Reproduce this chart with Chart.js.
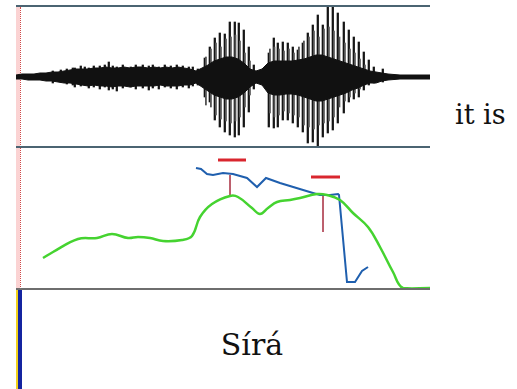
<!DOCTYPE html>
<html>
<head>
<meta charset="utf-8">
<script src="https://cdn.jsdelivr.net/npm/chart.js@4.4.1/dist/chart.umd.min.js"></script>
<style>
  body { margin: 0; background: #fff; width: 517px; height: 389px; overflow: hidden; position: relative; }
  .abs { position: absolute; }
  .hline { position: absolute; left: 16px; width: 414px; }
  .word { position: absolute; font-family: "DejaVu Serif", serif; color: #111; white-space: nowrap; }
</style>
</head>
<body>

<!-- left selection strip -->
<div class="abs" style="left:16px; top:7px; width:4px; height:282px; background:#fbd3d3;"></div>
<div class="abs" style="left:20px; top:7px; width:0; height:282px; border-left:1px dotted #d04848;"></div>
<div class="abs" style="left:16px; top:290px; width:2px; height:99px; background:#f2d21a;"></div>
<div class="abs" style="left:18px; top:290px; width:4px; height:99px; background:#1424a0;"></div>

<canvas id="wave" class="abs" width="414" height="141" style="left:16px; top:6px;"></canvas>
<canvas id="pitch" class="abs" width="414" height="142" style="left:16px; top:147px;"></canvas>

<div class="hline" style="top:5px; height:2px; background:#4b6472;"></div>
<div class="hline" style="top:146px; height:2px; background:#4b6472;"></div>
<div class="hline" style="top:288px; height:2px; background:#6e6e6e;"></div>

<div class="word" style="left:455px; top:101px; font-size:27px; line-height:27px;">it is</div>
<div class="word" style="left:152px; width:200px; text-align:center; top:330px; font-size:30px; line-height:30px;">Sírá</div>

<script>
// time in ms, waveform amplitude in arbitrary units (+71 .. -70)
var coreTimes = [0, 12, 24, 36, 48, 60, 72, 84, 96, 108, 120, 132, 144, 156, 168, 180, 192, 204, 216, 228,
  240, 252, 264, 276, 288, 300, 312, 324, 336, 348, 360, 372, 384, 396, 408, 420, 432, 444, 456, 468,
  480, 492, 504, 516, 528, 540, 552, 564, 576, 588, 600, 612, 624, 636, 648, 660, 672, 684, 696, 708,
  720, 732, 744, 768, 792, 816, 828];
var coreHi = [2, 3, 3, 3, 4, 4, 5, 5, 6, 7, 8, 8, 8, 9, 9, 10, 9, 9, 10, 9,
  10, 10, 9, 10, 9, 10, 9, 10, 9, 8, 6, 9, 12, 16, 18, 20, 20, 18, 14, 8,
  6, 8, 14, 16, 16, 16, 16, 17, 18, 20, 22, 22, 20, 18, 16, 14, 12, 10, 8, 6,
  5, 4, 3, 2, 2, 2, 2];
var coreLo = [-2, -2, -3, -3, -3, -4, -4, -5, -6, -6, -7, -8, -9, -8, -9, -9, -10, -9, -9, -10,
  -9, -9, -9, -9, -8, -9, -9, -9, -8, -8, -6, -10, -14, -18, -20, -22, -22, -20, -16, -10,
  -6, -8, -16, -18, -18, -17, -17, -18, -20, -22, -24, -24, -22, -20, -18, -16, -13, -11, -8, -6,
  -6, -4, -3, -2, -2, -2, -2];

// glottal pulses (strong)
var spikeTimes = [72, 88, 100, 112, 116, 128, 136, 144, 154, 166, 176, 184, 192, 200, 212, 228, 238, 252,
  264, 272, 284, 296, 308, 320, 332, 344, 352, 362,
  376, 386, 396, 406, 416, 426, 436, 444, 454, 464, 474,
  504, 514, 522, 532, 542, 552, 562, 572, 582, 592, 602, 612, 622, 632, 642, 654, 664, 674, 684, 694,
  704, 714, 732];
var spikeHi = [6, 7, 8, 9, 9, 11, 10, 9, 11, 11, 12, 15, 11, 10, 12, 10, 12, 12,
  11, 12, 10, 12, 11, 12, 11, 10, 10, 8,
  19, 30, 39, 44, 43, 55, 55, 54, 47, 30, 12,
  24, 39, 34, 35, 34, 30, 27, 34, 44, 52, 62, 52, 70, 70, 64, 55, 47, 40, 35, 25,
  17, 10, 8];
var spikeLo = [-6, -5, -7, -8, -10, -9, -8, -11, -10, -12, -10, -13, -12, -14, -11, -10, -12, -11,
  -13, -11, -12, -10, -11, -12, -10, -11, -9, -8,
  -20, -25, -43, -50, -55, -58, -60, -58, -50, -35, -12,
  -50, -51, -50, -43, -43, -46, -50, -55, -66, -65, -70, -60, -56, -53, -46, -36, -25, -22, -20, -13,
  -8, -6, -5];

// weaker peaks between the pulses
var minorTimes = [381, 391, 401, 411, 421, 431, 440, 449, 459, 469,
  509, 518, 527, 537, 547, 557, 567, 577, 587, 597, 607, 617, 627, 637, 648, 659, 669, 679, 689, 699];
var minorHi = [20, 28, 34, 30, 38, 40, 42, 36, 24, 16,
  28, 30, 28, 26, 28, 24, 30, 36, 40, 46, 40, 48, 50, 46, 40, 34, 28, 24, 18, 12];
var minorLo = [-28, -30, -38, -42, -44, -46, -44, -40, -30, -18,
  -36, -40, -38, -34, -36, -38, -40, -48, -50, -52, -48, -46, -44, -40, -30, -24, -20, -16, -12, -8];

// intensity contour (dB)
var intTimes = [54, 74, 124, 162, 192, 224, 244, 268, 294, 332, 352, 368, 392, 428, 444, 472, 488, 504,
  522, 548, 568, 602, 622, 648, 674, 704, 728, 754, 774, 828];
var intDb = [35.5, 38.5, 45, 45.5, 47.5, 45.5, 46, 45.5, 44, 44.5, 46.5, 56, 62.5, 66.5, 66, 60.5, 57.5, 60.5,
  63.5, 64.5, 65.5, 67.5, 67, 64.5, 58, 51, 41, 28.5, 20.5, 20.5];

// pitch contour (Hz)
var f0Times = [360, 370, 382, 394, 414, 434, 462, 482, 500, 528, 594, 608, 628, 644, 646, 662, 678, 692, 704];
var f0Hz = [342, 340, 330, 328, 332, 330, 322, 304, 322, 312, 292, 288, 288, 290, 288, 114, 114, 136, 144];

// tone targets: horizontal bars and their stems
var targetStart = [404, 590];
var targetEnd = [460, 648];
var targetHz = [358, 324];
var stemTimes = [428, 614];
var stemTop = [328, 288];
var stemBottom = [286, 214];

function xy(ts, vs) {
  return ts.map(function(t, i) { return { x: t, y: vs[i] }; });
}
function ranges(ts, lo, hi) {
  return ts.map(function(t, i) { return { x: t, y: [lo[i], hi[i]] }; });
}

var bare = {
  responsive: false,
  animation: false,
  events: [],
  layout: { padding: 0 },
  plugins: { legend: { display: false }, tooltip: { enabled: false }, title: { display: false } }
};

/*-----waveform-----*/
new Chart(document.getElementById('wave').getContext('2d'), {
  type: 'bar',
  data: {
    datasets: [{
      type: 'line',
      data: xy(coreTimes, coreHi),
      borderColor: '#111',
      borderWidth: 1,
      backgroundColor: '#111',
      pointRadius: 0,
      tension: 0,
      fill: '+1'
    }, {
      type: 'line',
      data: xy(coreTimes, coreLo),
      borderColor: '#111',
      borderWidth: 1,
      pointRadius: 0,
      tension: 0,
      fill: false
    }, {
      type: 'bar',
      data: ranges(minorTimes, minorLo, minorHi),
      backgroundColor: '#555',
      barThickness: 1.2,
      borderWidth: 0
    }, {
      type: 'bar',
      data: ranges(spikeTimes, spikeLo, spikeHi),
      backgroundColor: '#151515',
      barThickness: 1.6,
      borderWidth: 0
    }]
  },
  options: Object.assign({}, bare, {
    scales: {
      x: { type: 'linear', min: 0, max: 828, offset: false, display: false },
      y: { min: -70, max: 71, display: false }
    }
  })
});

/*-----pitch & intensity-----*/
var pitchSets = [{
  data: xy(intTimes, intDb),
  yAxisID: 'db',
  borderColor: '#45d330',
  borderWidth: 2.5,
  tension: 0.4
}, {
  data: xy(f0Times, f0Hz),
  yAxisID: 'hz',
  borderColor: '#1f5fae',
  borderWidth: 2,
  tension: 0
}];
targetStart.forEach(function(t, i) {
  pitchSets.push({
    data: [{ x: t, y: targetHz[i] }, { x: targetEnd[i], y: targetHz[i] }],
    yAxisID: 'hz',
    borderColor: '#d9262e',
    borderWidth: 3
  });
  pitchSets.push({
    data: [{ x: stemTimes[i], y: stemTop[i] }, { x: stemTimes[i], y: stemBottom[i] }],
    yAxisID: 'hz',
    borderColor: '#b34a5a',
    borderWidth: 1
  });
});
pitchSets.forEach(function(d) { d.pointRadius = 0; d.fill = false; });

new Chart(document.getElementById('pitch').getContext('2d'), {
  type: 'line',
  data: { datasets: pitchSets },
  options: Object.assign({}, bare, {
    scales: {
      x: { type: 'linear', min: 0, max: 828, display: false },
      db: { position: 'left', min: 20, max: 91, display: false },
      hz: { position: 'right', min: 100, max: 384, display: false }
    }
  })
});
</script>
</body>
</html>
